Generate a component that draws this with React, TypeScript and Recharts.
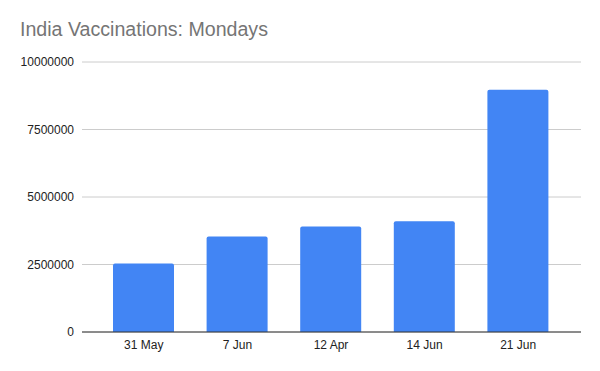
import React from 'react'
import { BarChart, Bar, XAxis, YAxis, CartesianGrid } from 'recharts'

const days = ['31 May', '7 Jun', '12 Apr', '14 Jun', '21 Jun']
const doses = [2540000, 3540000, 3910000, 4100000, 8970000]
const yTicks = [0, 2500000, 5000000, 7500000, 10000000]

const data = days.map((day, i) => ({ day, doses: doses[i] }))

const tickStyle = { fontSize: 12, fill: '#222', fontFamily: 'Arial, "Liberation Sans", sans-serif' }

const App = () => (
  <div style={{ position: 'absolute', left: 0, top: 0, width: 600, height: 371, background: '#fff' }}>
    <div
      style={{
        position: 'absolute',
        left: 20,
        top: 18,
        fontSize: 19.6,
        lineHeight: '22px',
        color: '#757575',
        fontFamily: 'Arial, "Liberation Sans", sans-serif',
      }}>
      India Vaccinations: Mondays
    </div>
    <BarChart
      width={600}
      height={371}
      data={data}
      margin={{ top: 62, right: 19, bottom: 9, left: 20 }}>
      <CartesianGrid vertical={false} stroke="#ccc" />
      <XAxis
        dataKey="day"
        tickLine={false}
        axisLine={{ stroke: '#333' }}
        padding={{ left: 15, right: 16 }}
        tick={tickStyle}
      />
      <YAxis
        width={62}
        domain={[0, 10000000]}
        ticks={yTicks}
        axisLine={false}
        tickLine={false}
        tick={tickStyle}
      />
      <Bar dataKey="doses" fill="#4285F4" barSize={61} radius={[2, 2, 0, 0]} isAnimationActive={false} />
    </BarChart>
  </div>
)

export default App
